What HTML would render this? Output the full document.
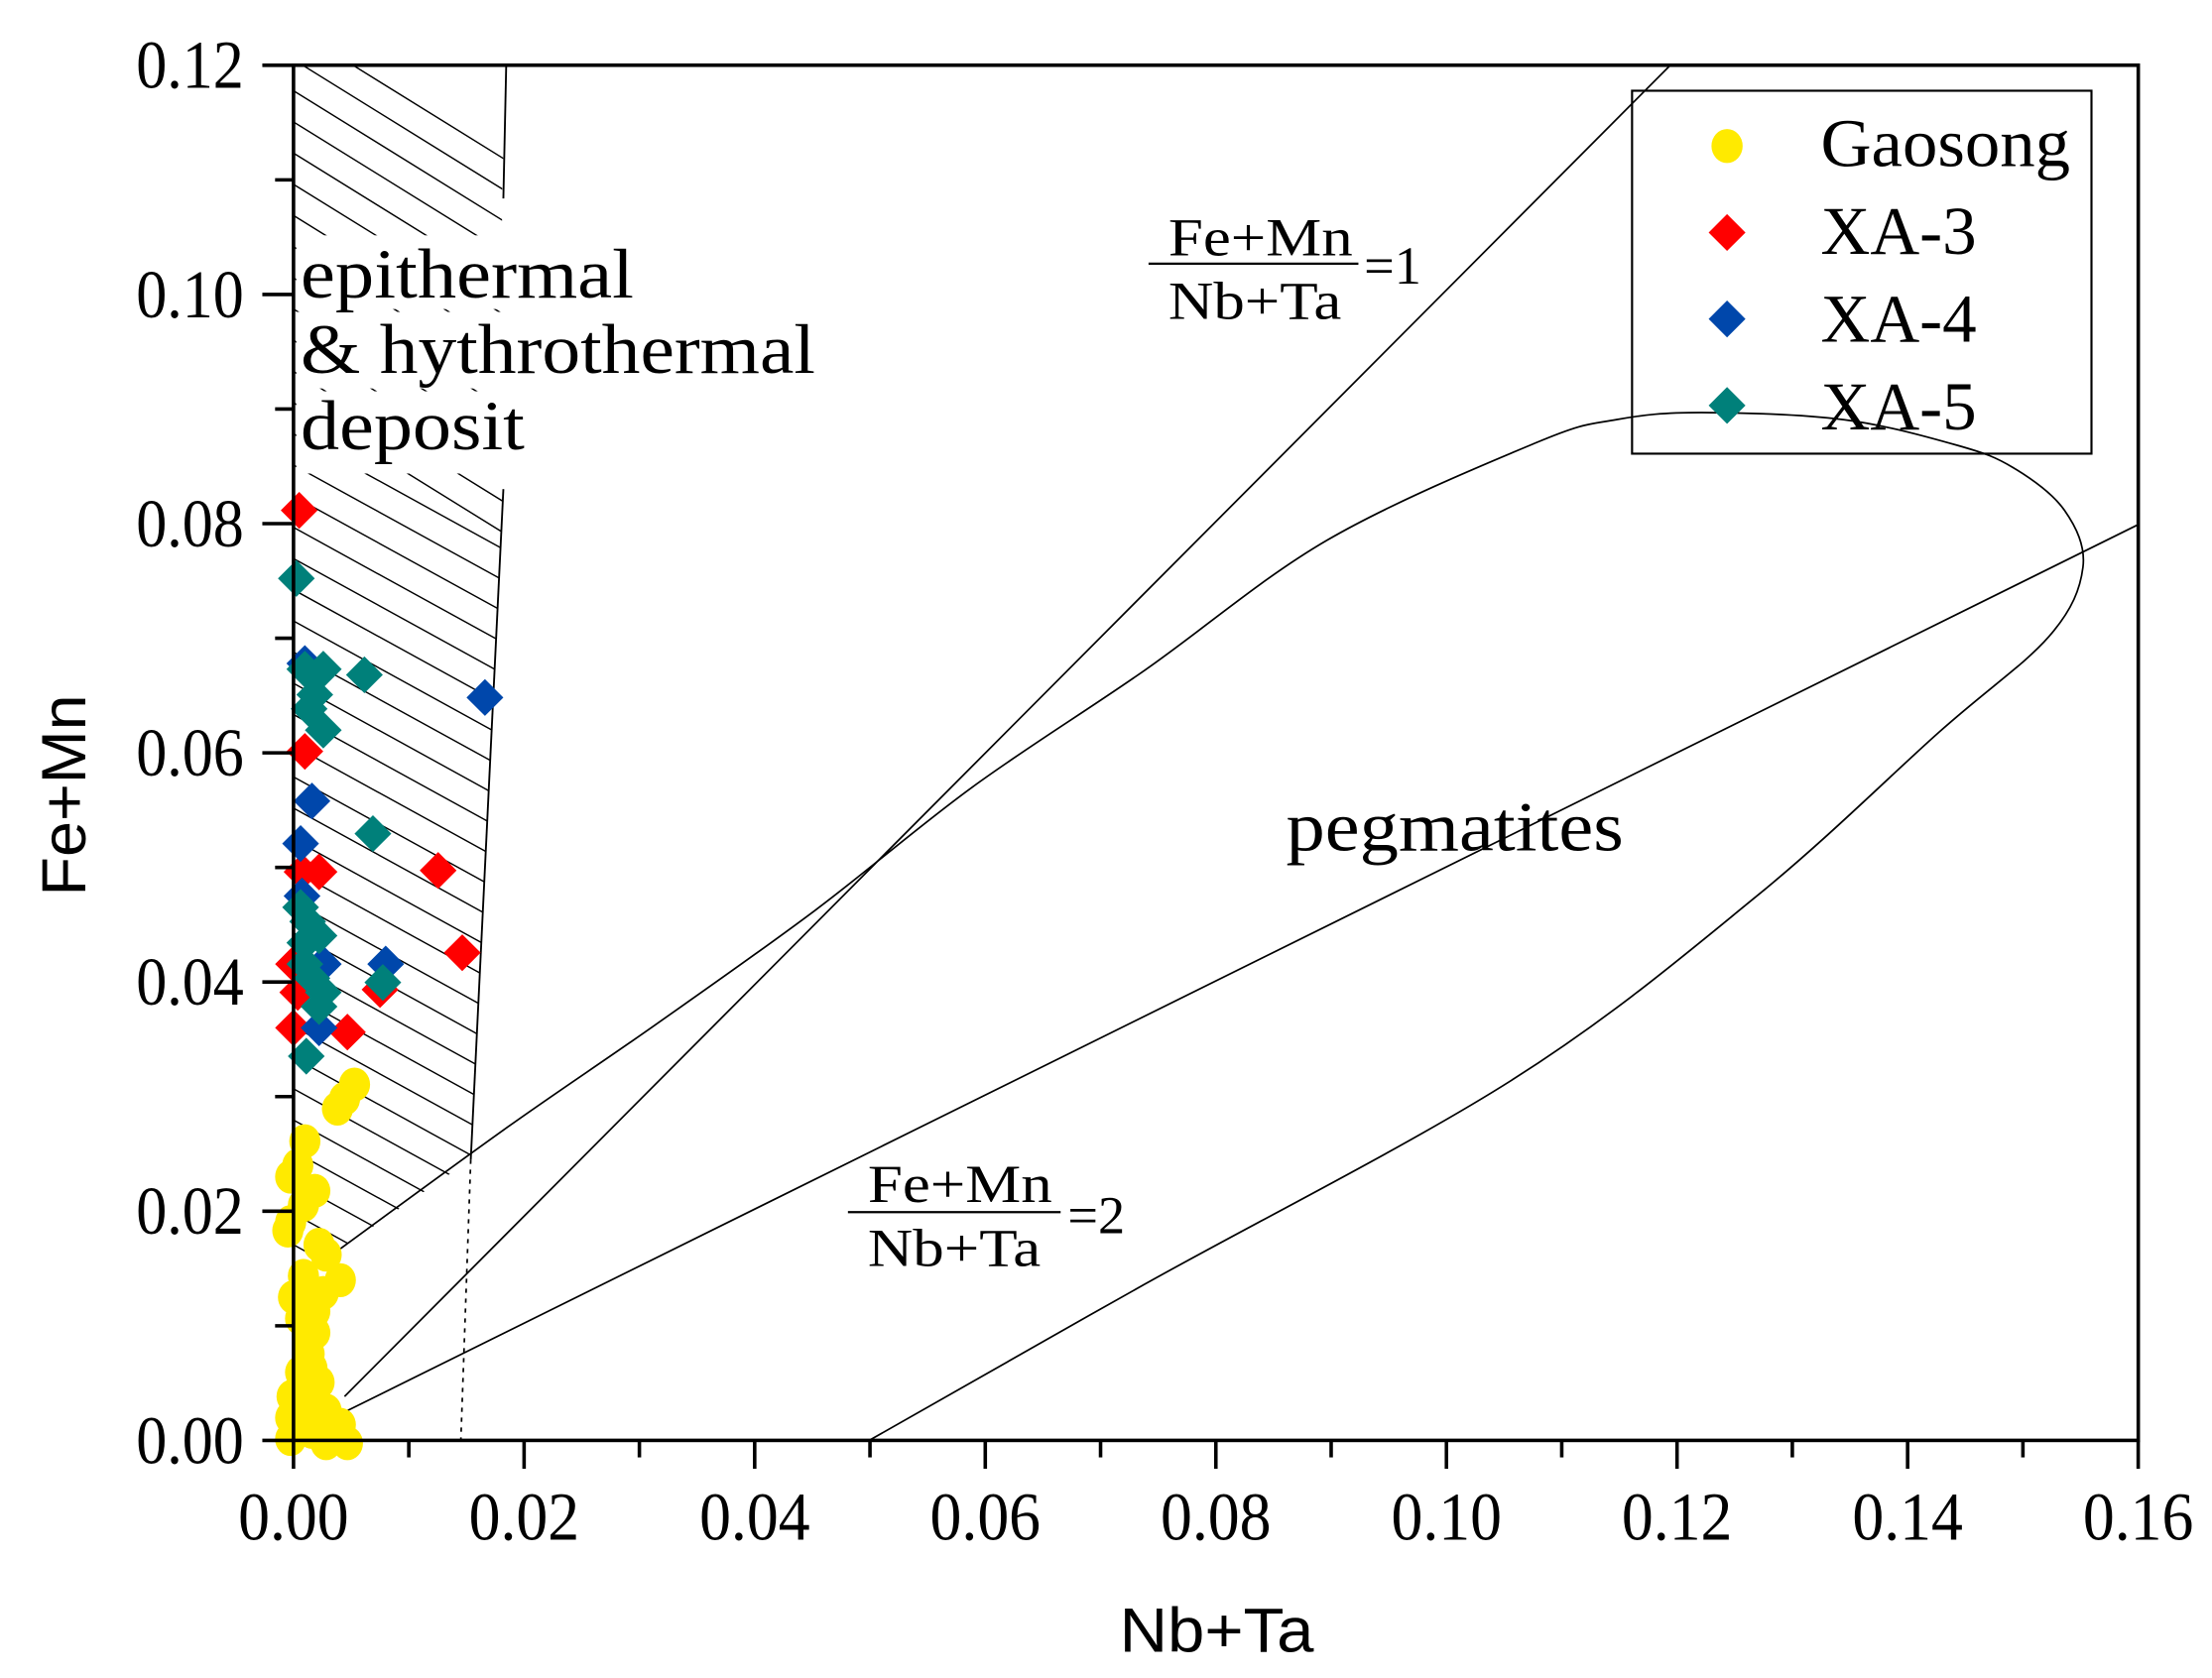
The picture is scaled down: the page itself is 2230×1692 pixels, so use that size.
<!DOCTYPE html>
<html><head><meta charset="utf-8"><style>html,body{margin:0;padding:0;background:#fff}svg{display:block}</style></head>
<body>
<svg id="s" width="2230" height="1692" viewBox="0 0 1560 1183.6" preserveAspectRatio="none" xmlns="http://www.w3.org/2000/svg">
<defs>
<clipPath id="hc"><path d="M207,46 L357,46 L354,140 L355,345 L332,818 L237,883 L207,895 Z"/></clipPath>
</defs>
<rect width="1560" height="1184" fill="#fff"/>
<g id="hatch" clip-path="url(#hc)" stroke="#000" stroke-width="1"></g>
<polyline points="357,46 355,140" fill="none" stroke="#000" stroke-width="1.3"/>
<polyline points="355,345 332,818" fill="none" stroke="#000" stroke-width="1.3"/>
<line x1="332" y1="818" x2="325" y2="1016" stroke="#000" stroke-width="1.2" stroke-dasharray="3,4"/>
<rect x="209" y="166" width="240" height="52" fill="#fff"/>
<rect x="209" y="220" width="370" height="54" fill="#fff"/>
<rect x="209" y="276" width="166" height="58" fill="#fff"/>
<g fill="none" stroke="#000" stroke-width="1.2">
<line x1="243" y1="985" x2="1178" y2="46"/>
<line x1="245" y1="995" x2="1508" y2="370"/>
<path id="loop" d=""/>
</g>
<g font-family="Liberation Serif, serif" fill="#000">
<text x="212" y="210" font-size="50" textLength="235" lengthAdjust="spacingAndGlyphs">epithermal</text>
<text x="212" y="263" font-size="50" textLength="363" lengthAdjust="spacingAndGlyphs">&amp; hythrothermal</text>
<text x="212" y="317" font-size="50" textLength="158" lengthAdjust="spacingAndGlyphs">deposit</text>
<text x="907" y="600" font-size="50" textLength="238" lengthAdjust="spacingAndGlyphs">pegmatites</text>
<text x="824" y="180" font-size="38" textLength="130" lengthAdjust="spacingAndGlyphs">Fe+Mn</text>
<line x1="810" y1="186" x2="958" y2="186" stroke="#000" stroke-width="1.6"/>
<text x="824" y="225" font-size="38" textLength="122" lengthAdjust="spacingAndGlyphs">Nb+Ta</text>
<text x="962" y="200" font-size="38">=1</text>
<text x="612" y="848" font-size="38" textLength="130" lengthAdjust="spacingAndGlyphs">Fe+Mn</text>
<line x1="598" y1="855" x2="748" y2="855" stroke="#000" stroke-width="1.6"/>
<text x="612" y="893" font-size="38" textLength="122" lengthAdjust="spacingAndGlyphs">Nb+Ta</text>
<text x="753" y="870" font-size="38">=2</text>
</g>
<g id="pts"></g>
<rect x="207" y="46" width="1301" height="970" fill="none" stroke="#000" stroke-width="2.5"/>
<g id="ticks" stroke="#000" stroke-width="2.5"></g>
<g id="tl" font-family="Liberation Serif, serif" font-size="48" fill="#000"></g>
<text x="858" y="1165" font-family="Liberation Sans, sans-serif" font-size="44" text-anchor="middle" textLength="137" lengthAdjust="spacingAndGlyphs">Nb+Ta</text>
<text transform="translate(60,561) rotate(-90)" font-family="Liberation Sans, sans-serif" font-size="44" text-anchor="middle" textLength="142" lengthAdjust="spacingAndGlyphs">Fe+Mn</text>
<rect x="1151" y="64" width="324" height="256" fill="none" stroke="#000" stroke-width="1.5"/>
<g font-family="Liberation Serif, serif" font-size="48" fill="#000">
<text x="1284" y="117" textLength="176" lengthAdjust="spacingAndGlyphs">Gaosong</text>
<text x="1284" y="179" textLength="110" lengthAdjust="spacingAndGlyphs">XA-3</text>
<text x="1284" y="241" textLength="110" lengthAdjust="spacingAndGlyphs">XA-4</text>
<text x="1284" y="303" textLength="110" lengthAdjust="spacingAndGlyphs">XA-5</text>
</g>
<ellipse cx="1218" cy="103" rx="11" ry="12" fill="#ffea00"/>
<polygon points="1218,151 1231,164 1218,177 1205,164" fill="#f00"/>
<polygon points="1218,212 1231,225 1218,238 1205,225" fill="#0047ab"/>
<polygon points="1218,273 1231,286 1218,299 1205,286" fill="#00807a"/>
</svg>
<script>
var NS="http://www.w3.org/2000/svg";
function el(t,a,p){var e=document.createElementNS(NS,t);for(var k in a)e.setAttribute(k,a[k]);p.appendChild(e);return e;}
var h=document.getElementById('hatch');
for(var y0=20;y0<950;y0+=22){var sl=y0<300?0.62:0.55;el('line',{x1:207,y1:y0,x2:400,y2:y0+193*sl},h);}
var P=[[613,1016],[807,906],[1066,762],[1239,632],[1368,516],[1445,449],[1469,400],[1456,360],[1420,330],[1380,314],[1300,296],[1200,291],[1140,296],[1084,312],[936,381],[807,473],[686,555],[575,642],[462,723],[358,795],[237,883]];
function cr(pts){var d="M"+pts[0][0]+","+pts[0][1];for(var i=0;i<pts.length-1;i++){var p0=pts[i-1]||pts[i],p1=pts[i],p2=pts[i+1],p3=pts[i+2]||p2;
var c1x=p1[0]+(p2[0]-p0[0])/6,c1y=p1[1]+(p2[1]-p0[1])/6,c2x=p2[0]-(p3[0]-p1[0])/6,c2y=p2[1]-(p3[1]-p1[1])/6;
d+=" C"+c1x+","+c1y+" "+c2x+","+c2y+" "+p2[0]+","+p2[1];}return d;}
document.getElementById('loop').setAttribute('d',cr(P));
var t=document.getElementById('ticks'),tl=document.getElementById('tl');
function X(v){return 207+v*8131;}function Y(v){return 1016-v*8083;}
for(var i=0;i<=16;i++){var x=X(i*0.01);var maj=i%2==0;el('line',{x1:x,y1:1016,x2:x,y2:maj?1036:1028},t);
if(maj){var tx=el('text',{x:x,y:1086,'text-anchor':'middle',textLength:78,lengthAdjust:'spacingAndGlyphs'},tl);tx.textContent=(i*0.01).toFixed(2);}}
for(var i=0;i<=12;i++){var y=Y(i*0.01);var maj=i%2==0;el('line',{x1:207,y1:y,x2:maj?185:194,y2:y},t);
if(maj){var tx=el('text',{x:172,y:y+16,'text-anchor':'end',textLength:76,lengthAdjust:'spacingAndGlyphs'},tl);tx.textContent=(i*0.01).toFixed(2);}}
var g=document.getElementById('pts');
var yel=[[250,765],[243,775],[238,782],[215,805],[210,822],[205,830],[222,840],[214,850],[205,862],[203,868],[225,878],[230,885],[240,903],[228,912],[207,915],[212,930],[222,940],[218,955],[212,968],[225,975],[206,985],[215,990],[230,995],[205,1000],[240,1005],[220,1010],[205,1015],[230,1018],[245,1018],[210,1005],[220,965],[218,945],[222,925],[214,900],[220,1000]];
yel.forEach(function(p){el('ellipse',{cx:p[0],cy:p[1],rx:11,ry:12,fill:'#ffea00'},g);});
function dia(p,c){var r=13;el('polygon',{points:(p[0])+","+(p[1]-r)+" "+(p[0]+r)+","+p[1]+" "+p[0]+","+(p[1]+r)+" "+(p[0]-r)+","+p[1],fill:c},g);}
[[211,360],[215,530],[213,615],[225,615],[309,614],[326,672],[268,698],[245,728],[210,700],[207,725],[207,680]].forEach(function(p){dia(p,'#f00');});
[[215,468],[220,565],[212,595],[213,632],[228,680],[272,680],[342,492],[225,725]].forEach(function(p){dia(p,'#0047ab');});
[[209,408],[215,472],[228,472],[257,476],[222,490],[228,515],[263,588],[217,650],[225,660],[215,680],[220,690],[228,700],[270,693],[216,745],[225,710],[212,640],[215,665],[218,500]].forEach(function(p){dia(p,'#00807a');});
</script>
</body></html>
